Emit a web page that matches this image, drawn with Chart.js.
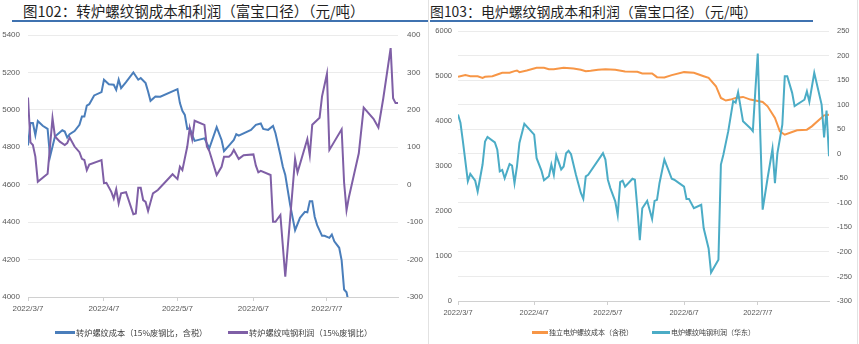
<!DOCTYPE html>
<html>
<head>
<meta charset="utf-8">
<script src="https://cdn.jsdelivr.net/npm/chart.js@4.4.1/dist/chart.umd.min.js"></script>
<style>
  body { margin: 0; background: #fff; width: 859px; height: 344px; overflow: hidden; position: relative;
         font-family: "Noto Sans CJK SC", "Noto Sans", sans-serif; }
  canvas { position: absolute; top: 0; }
  .title { position: absolute; white-space: nowrap; color: #1f1f1f; }
  .rule { position: absolute; top: 20px; height: 2px; background: #3f72b0; }
  .vline { position: absolute; top: 0; width: 1px; height: 344px; background: #e2e2e2; }
  .leg { position: absolute; white-space: nowrap; color: #404040; }
  .leg i { display: inline-block; width: 20px; height: 3px; vertical-align: middle; margin-right: 1px; position: relative; top: -1px; }
</style>
</head>
<body>
<div class="title" style="left:23px;top:3px;font-size:14.5px;line-height:16px;">图102：转炉螺纹钢成本和利润（富宝口径）（元/吨）</div>
<div class="rule" style="left:12px;width:416px;"></div>
<div class="title" style="left:430px;top:3px;font-size:13.9px;line-height:16px;">图103：电炉螺纹钢成本和利润（富宝口径）（元/吨）</div>
<div class="rule" style="left:430px;width:383px;"></div>
<div class="vline" style="left:428px;"></div>
<div class="vline" style="left:857px;"></div>

<canvas id="bofChart" width="430" height="344" style="left:0;"></canvas>
<canvas id="eafChart" width="429" height="344" style="left:430px;"></canvas>

<div class="leg" style="left:55px;top:326px;font-size:8.2px;"><i style="background:#4a7ebb"></i>转炉螺纹成本（15%废钢比，含税）</div>
<div class="leg" style="left:228px;top:326px;font-size:8.2px;"><i style="background:#7f5fa6"></i>转炉螺纹吨钢利润（15%废钢比）</div>
<div class="leg" style="left:532px;top:327px;font-size:7px;"><i style="background:#f79646;width:16px"></i>独立电炉螺纹成本（含税）</div>
<div class="leg" style="left:652px;top:327px;font-size:7px;"><i style="background:#4bacc6;width:18px"></i>电炉螺纹吨钢利润（华东）</div>

<script>
// x axis: days since 2022/3/7
const tickDays = [0, 31, 61, 92, 122];
const tickLabels = ['2022/3/7', '2022/4/7', '2022/5/7', '2022/6/7', '2022/7/7'];

// 图102 转炉
const bofCostDays = [0,1,2,3,4,6,8,9,11,14,15,16,17,19,21,22,23,24,25,27,30,31,33,35,36,37,38,40,43,45,46,48,49,50,52,54,
  61,62,63,64,65,66,67,68,72,74,77,79,80,82,84,85,86,91,93,95,96,98,100,101,103,104,105,107,109,111,113,114,115,116,
  117,118,120,121,123,124,125,127,128,129,130,131];
const bofCost = [4810,4930,4930,4865,4940,4915,4898,4750,4857,4891,4884,4852,4870,4887,4920,4964,4964,5023,5030,5077,5095,5161,5137,5134,5107,5161,5116,5148,5200,5161,5170,5143,5098,5048,5071,5070,
  5111,5036,4995,4973,4898,4902,4866,4834,4848,4795,4907,4839,4780,4809,4839,4870,4862,4893,4920,4927,4898,4893,4914,4875,4759,4696,4652,4491,4357,4423,4455,4452,4512,4512,
  4429,4384,4327,4327,4316,4334,4298,4263,4196,4040,4025,3960];

const bofProfitDays = [0,1,2,3,4,8,10,11,13,15,16,17,19,21,22,23,24,25,30,31,32,34,35,36,37,38,40,43,44,45,46,47,48,49,51,53,
  59,61,62,63,65,66,67,68,72,73,74,77,79,80,82,83,84,86,88,92,93,94,95,99,100,101,103,105,109,110,114,115,116,119,120,122,123,
  128,129,130,131,133,135,137,141,143,145,148,149,150,151];
const bofProfit = [233,113,106,75,8,29,178,129,115,106,111,126,102,87,69,66,39,54,66,4,5,-19,-37,-12,-50,-23,-20,-79,-77,-8,-8,-41,-46,-70,-23,-14,
  28,15,48,39,102,151,122,171,160,102,90,26,48,75,75,81,93,69,79,81,51,33,37,26,-99,-99,-81,-246,69,33,122,79,160,179,236,296,93,
  148,6,-68,-32,26,84,206,176,153,231,365,231,218,218];

// 图103 电炉
const eafCostDays = [0,3,5,8,10,11,14,16,18,21,23,24,25,28,32,35,37,39,43,47,50,52,54,57,60,64,68,73,75,79,81,84,87,92,96,98,100,102,
  105,107,109,111,113,116,119,124,126,129,131,133,136,138,142,144,147,149,151];
const eafCost = [4981,5019,4996,4996,4959,4981,4996,5033,5071,5071,5108,5123,5086,5123,5182,5182,5152,5152,5182,5167,5138,5108,5115,5138,5152,5138,5100,5093,5056,5056,4974,4967,5019,5086,5071,5033,4996,4959,
  4773,4513,4454,4476,4513,4535,4476,4424,4327,4067,3770,3695,3755,3792,3807,3881,4030,4126,4141];

const eafProfitDays = [0,1,2,4,5,7,8,10,11,12,15,16,17,18,19,21,22,23,24,25,27,31,32,34,35,37,38,39,40,42,43,44,45,46,48,50,51,52,53,
  59,60,61,62,64,65,66,67,68,71,72,73,74,75,77,79,80,81,82,84,87,88,92,93,94,96,99,100,102,103,106,107,108,110,112,113,114,116,
  119,120,121,122,124,126,128,129,130,132,133,134,136,137,141,142,143,145,148,149,150,151];
const eafProfit = [80,63,25,-56,-41,-55,-77,-22,25,34,23,8,-36,-33,-50,-21,-24,-60,-26,22,61,39,-9,-35,-54,-46,-22,-43,-3,-32,-26,1,6,-1,-43,-80,-92,-46,-43,
  1,-12,-53,-70,-97,-125,-58,-55,-67,-51,-53,-111,-176,-111,-96,-133,-96,-94,-60,-12,-51,-53,-67,-92,-92,-111,-104,-152,-193,-242,-216,-22,-2,46,107,104,125,66,
  52,46,127,204,-114,-50,10,-60,1,59,158,158,124,97,110,127,106,165,100,33,88,-5];

function pts(days, vals) {
  return days.map((d, i) => ({ x: d, y: vals[i] }));
}

function line(label, data, color, axis, order) {
  return { label, data, borderColor: color, backgroundColor: color, borderWidth: 2,
           pointRadius: 0, tension: 0, yAxisID: axis, order };
}

function buildChart(id, datasets, o) {
  const tickFont = { family: 'Liberation Sans', size: o.fontSize };
  const plain = v => String(v);
  return new Chart(document.getElementById(id), {
    type: 'line',
    data: { datasets },
    options: {
      responsive: false,
      animation: false,
      events: [],
      layout: { padding: { left: 0, right: 0, top: o.top, bottom: o.bottom } },
      plugins: { legend: { display: false }, title: { display: false }, tooltip: { enabled: false } },
      scales: {
        x: {
          type: 'linear', min: 0, max: 151,
          afterBuildTicks: s => { s.ticks = tickDays.map(v => ({ value: v })); },
          afterFit: s => { s.height = 20; },
          ticks: { font: tickFont, color: '#595959', padding: 3, maxRotation: 0,
                   callback: v => tickLabels[tickDays.indexOf(v)] },
          grid: { drawOnChartArea: false, drawTicks: true, tickLength: 4, color: '#d0d0d0' },
          border: { display: true, color: '#d0d0d0' }
        },
        y: {
          position: 'left', min: o.yMin, max: o.yMax,
          afterFit: s => { s.width = 28; },
          ticks: { stepSize: o.yStep, font: tickFont, color: '#595959', padding: o.leftPad, callback: plain },
          grid: { display: o.leftGrid, color: '#ebebeb', drawTicks: false },
          border: { display: false }
        },
        y1: {
          position: 'right', min: o.y1Min, max: o.y1Max,
          afterFit: s => { s.width = o.rightWidth; },
          ticks: { stepSize: o.y1Step, font: tickFont, color: '#595959', padding: o.rightPad, callback: plain },
          grid: { display: !o.leftGrid, color: '#ebebeb', drawTicks: false },
          border: { display: false }
        }
      }
    }
  });
}

buildChart('bofChart', [
  line('转炉螺纹成本（15%废钢比，含税）', pts(bofCostDays, bofCost), '#4a7ebb', 'y', 1),
  line('转炉螺纹吨钢利润（15%废钢比）', pts(bofProfitDays, bofProfit), '#7f5fa6', 'y1', 0)
], { top: 35, bottom: 27, fontSize: 8, yMin: 4000, yMax: 5400, yStep: 200, y1Min: -300, y1Max: 400, y1Step: 100,
     leftGrid: true, leftPad: 8, rightPad: 9, rightWidth: 32 });

buildChart('eafChart', [
  line('独立电炉螺纹成本（含税）', pts(eafCostDays, eafCost), '#f79646', 'y', 1),
  line('电炉螺纹吨钢利润（华东）', pts(eafProfitDays, eafProfit), '#4bacc6', 'y1', 0)
], { top: 31, bottom: 23, fontSize: 7.5, yMin: 0, yMax: 6000, yStep: 1000, y1Min: -300, y1Max: 250, y1Step: 50,
     leftGrid: false, leftPad: 6, rightPad: 8, rightWidth: 30 });
</script>
</body>
</html>
